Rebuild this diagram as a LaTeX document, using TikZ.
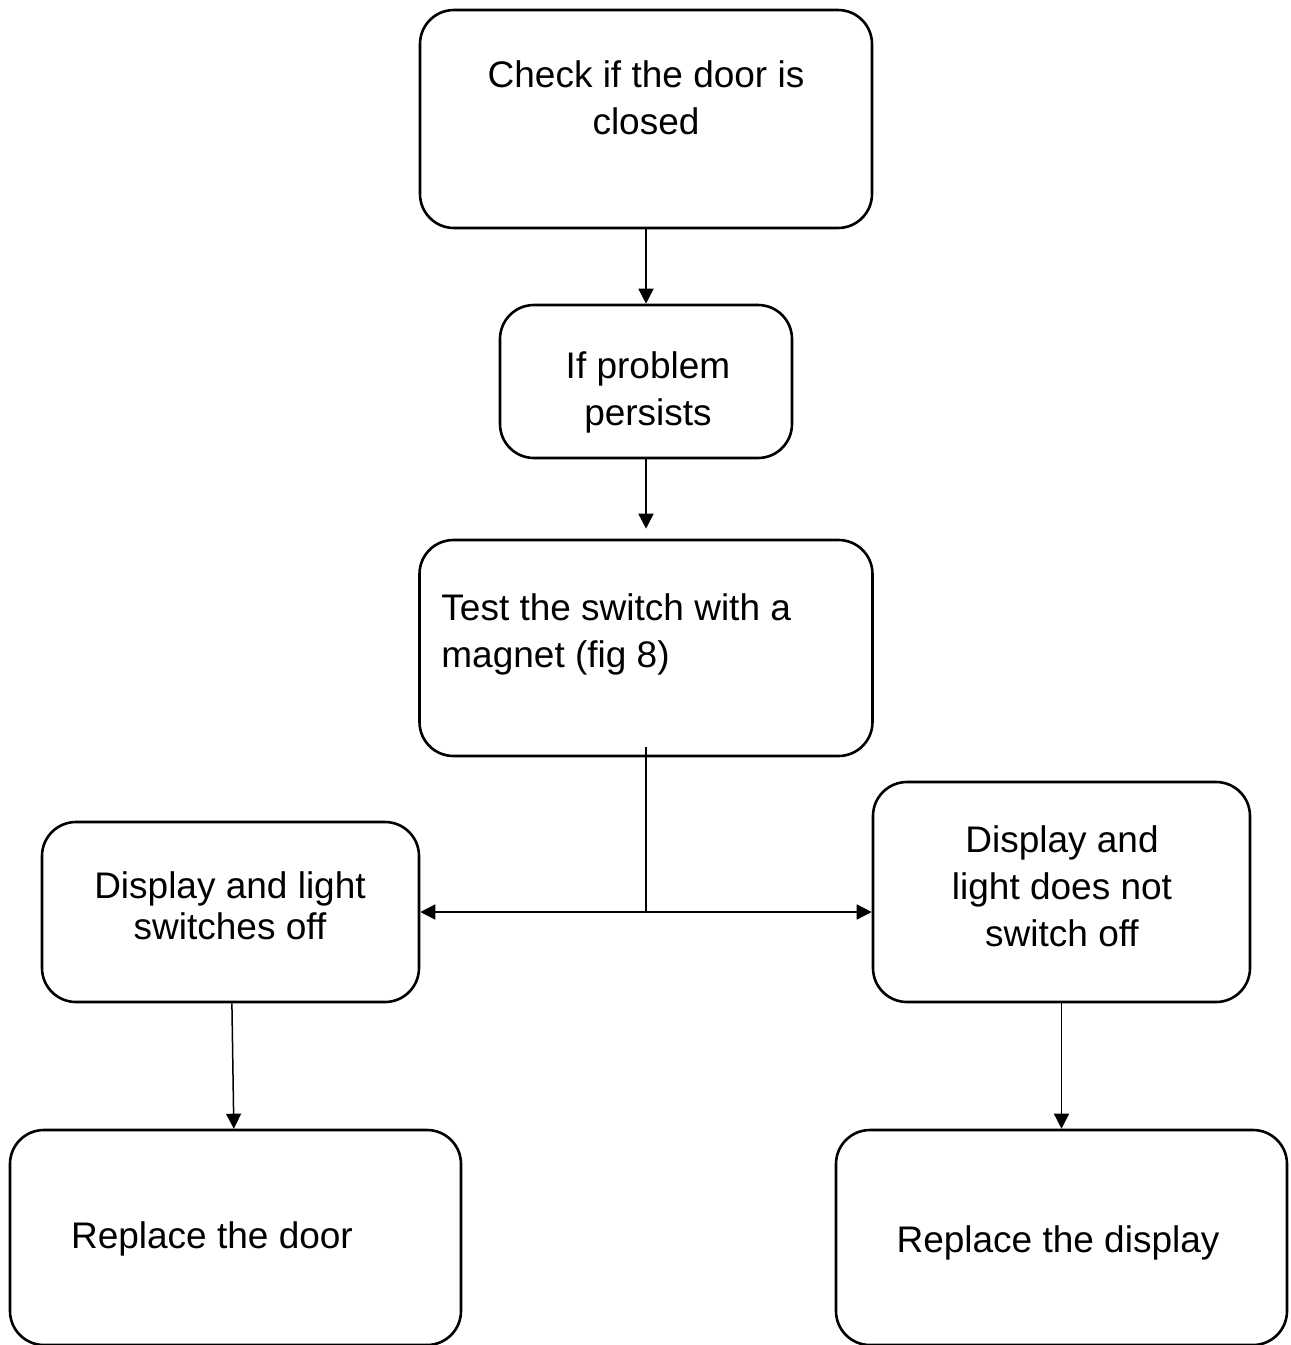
\documentclass[tikz,border=0pt]{standalone}
\usepackage{fontspec}
\setmainfont{Liberation Sans}
\usetikzlibrary{arrows.meta}

\begin{document}
\begin{tikzpicture}[x=0.5pt,y=-0.5pt]
    \tikzstyle{box}=[rectangle,draw,line width=1.3pt,rounded corners=17pt,inner sep=0pt]
    \tikzstyle{txt}=[inner sep=0pt,align=center,font=\fontsize{18.5}{23.5}\selectfont]
    \tikzstyle{txtsnug}=[txt,font=\fontsize{18.5}{20.5}\selectfont]
    \tikzstyle{link}=[line width=0.75pt,-{Triangle[length=7.5pt,width=7.5pt]}]
    \useasboundingbox (0,0) rectangle (1291,1345);
    % boxes
    \node[box,minimum width=226pt,minimum height=109pt] (check) at (646,119) {};
    \node[box,minimum width=146pt,minimum height=76.5pt] (persist) at (646,381.5) {};
    \node[box,minimum width=226.5pt,minimum height=108pt] (test) at (646,648) {};
    \node[box,minimum width=188.5pt,minimum height=90pt] (off) at (230.5,912) {};
    \node[box,minimum width=188.5pt,minimum height=110pt] (noff) at (1061.5,892) {};
    \node[box,minimum width=225.5pt,minimum height=107.5pt] (door) at (235.5,1237.5) {};
    \node[box,minimum width=225.5pt,minimum height=107.5pt] (disp) at (1061.5,1237.5) {};
    % texts
    \node[txt] (checkt) at (646,98) {Check if the door is\\closed};
    \node[txt] (persistt) at (648,392) {If problem\\persists};
    \node[txt,align=left,anchor=west] (testt) at (441,634) {Test the switch with a\\magnet (fig 8)};
    \node[txtsnug] (offt) at (230,906) {Display and light\\switches off};
    \node[txt] (nofft) at (1062,886) {Display and\\light does not\\switch off};
    \node[txt] (doort) at (212,1239) {Replace the door};
    \node[txt] (dispt) at (1058,1243) {Replace the display};
    % connectors
    \coordinate (split) at (646,912);
    \draw[link] (check) -- (persist);
    \draw[link,shorten >=5pt] (persist) -- (test);
    \draw[line width=0.75pt] ([yshift=5pt]test.south) -- (split);
    \draw[link] (split) -- (off.east |- split);
    \draw[link] (split) -- (noff.west |- split);
    \draw[link] (off) -- (door);
    \draw[link] (noff) -- (disp);
\end{tikzpicture}
\end{document}
